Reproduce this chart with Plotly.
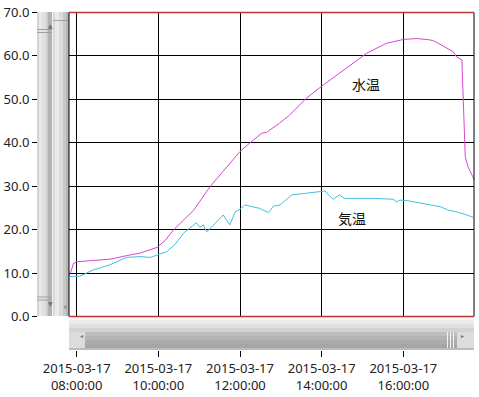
import plotly.graph_objects as go

W, H = 479, 397

# ---------------- data ----------------
water_time = ["07:49", "07:52", "07:55", "08:00", "08:24", "08:49", "09:13", "09:33", "09:58",
              "10:10", "10:22", "10:52", "11:16", "11:35", "11:50", "12:00", "12:17", "12:32",
              "12:39", "12:58", "13:13", "13:37", "13:59", "14:32", "15:06", "15:35", "16:00",
              "16:20", "16:39", "16:47", "17:01", "17:13", "17:18", "17:26", "17:31", "17:35",
              "17:42", "17:44"]
water_temp = [9.4, 10.5, 12.2, 12.6, 12.9, 13.2, 14.0, 14.6, 15.9,
              17.5, 19.9, 24.5, 29.9, 33.3, 36.2, 38.0, 40.3, 42.2,
              42.4, 44.5, 46.4, 50.2, 52.9, 56.8, 60.6, 62.9, 63.8,
              64.0, 63.7, 63.3, 62.1, 61.0, 59.8, 59.1, 36.8, 34.5,
              32.2, 31.4]

air_time = ["07:49", "08:05", "08:24", "08:49", "09:13", "09:33", "09:48", "09:58", "10:12",
            "10:24", "10:37", "10:56", "11:01", "11:06", "11:11", "11:18", "11:26", "11:35",
            "11:45", "11:53", "12:00", "12:07", "12:17", "12:29", "12:42", "12:49", "12:59",
            "13:04", "13:16", "13:38", "14:00", "14:05", "14:10", "14:17", "14:26", "14:34",
            "15:16", "15:45", "15:50", "15:55", "16:05", "16:24", "16:39", "16:54", "17:06",
            "17:18", "17:33", "17:43"]
air_temp = [9.2, 9.3, 10.7, 11.9, 13.6, 13.8, 13.6, 14.2, 14.9,
            16.5, 19.2, 21.6, 20.5, 21.1, 19.5, 20.5, 21.8, 23.4,
            21.1, 24.1, 24.7, 25.7, 25.3, 24.9, 23.9, 25.4, 25.7,
            26.4, 28.0, 28.4, 28.7, 28.9, 28.0, 27.0, 28.0, 27.2,
            27.2, 27.0, 26.4, 26.8, 26.7, 26.2, 25.7, 25.3, 24.5,
            24.1, 23.4, 22.8]

DATE = "2015-03-17"
x_start, x_end = "2015-03-17 07:48:41", "2015-03-17 17:43:51"
y_range = [0, 70]
series_labels = ["水温", "気温"]

# ---------------- layout helpers (pixel -> paper) ----------------
def px(x):
    return x / W

def py(y):
    return 1 - y / H

PL, PR, PT, PB = 69, 474, 12.5, 316.5

fig = go.Figure()
fig.add_trace(go.Scatter(x=[f"{DATE} {t}" for t in water_time], y=water_temp, mode="lines",
                         line=dict(color="#D646D4", width=1), name=series_labels[0],
                         hoverinfo="skip"))
fig.add_trace(go.Scatter(x=[f"{DATE} {t}" for t in air_time], y=air_temp, mode="lines",
                         line=dict(color="#3EC0DE", width=1), name=series_labels[1],
                         hoverinfo="skip"))

shapes = []

def rect(x0, y0, x1, y1, color, layer="above"):
    shapes.append(dict(type="rect", xref="paper", yref="paper", x0=px(x0), x1=px(x1),
                       y0=py(y1), y1=py(y0), fillcolor=color, line=dict(width=0), layer=layer))

def hline(x0, x1, y, color, w=1):
    shapes.append(dict(type="line", xref="paper", yref="paper", x0=px(x0), x1=px(x1),
                       y0=py(y), y1=py(y), line=dict(color=color, width=w)))

def vline(x, y0, y1, color, w=1):
    shapes.append(dict(type="line", xref="paper", yref="paper", x0=px(x), x1=px(x),
                       y0=py(y0), y1=py(y1), line=dict(color=color, width=w)))

# vertical scrollbar 1 (x 37-53)
for (a, b, c) in [(37, 39, "#d4d4d4"), (39, 42, "#e8e8e8"), (42, 46, "#e0e0e0"),
                  (46, 48, "#cccccc"), (48, 52, "#b2b2b2"), (52, 53, "#f2f2f2")]:
    rect(a, 12, b, 316, c)
hline(37, 52, 29.5, "#a0a0a0")
hline(37, 52, 32.5, "#a0a0a0")
hline(37, 52, 297, "#a0a0a0")
hline(37, 52, 300, "#a0a0a0")
# vertical scrollbar 2 (x 53-69)
for (a, b, c) in [(53, 55, "#d8d8d8"), (55, 59, "#eaeaea"), (59, 63, "#dcdcdc"),
                  (63, 66, "#c8c8c8"), (66, 69, "#b6b6b6")]:
    rect(a, 12, b, 316, c)
hline(53, 68, 20.5, "#a0a0a0")

# horizontal scrollbar (y 317-350)
for (a, b, c) in [(317, 320, "#f6f6f6"), (320, 324, "#ececec"), (324, 328, "#e0e0e0"),
                  (328, 332, "#d2d2d2"), (332, 336, "#bebebe"), (336, 340, "#b4b4b4"),
                  (340, 344, "#acacac"), (344, 348, "#a6a6a6"), (348, 350, "#bcbcbc")]:
    rect(PL, a, PR, b, c)
rect(PL, 332, 85, 348, "#dcdcdc")
rect(457, 332, PR, 348, "#dcdcdc")
for gx in (447.5, 450.5, 453.5):
    vline(gx, 332, 348, "#f4f4f4")

# plot frame
vline(PL, PT, PB, "#000000")
vline(PR, PT, PB, "#000000")
hline(PL, PR, PT, "#C0343A", 1.3)
hline(PL, PR, PB, "#C0343A", 1.3)

annotations = [
    dict(x=f"{DATE} 15:05", y=53.5, xref="x", yref="y", text=series_labels[0], showarrow=False,
         font=dict(family="Noto Sans CJK JP", size=14, color="#111111")),
    dict(x=f"{DATE} 14:44", y=22.7, xref="x", yref="y", text=series_labels[1], showarrow=False,
         font=dict(family="Noto Sans CJK JP", size=14, color="#111111")),
]
for (tx, ty, t) in [(45.5, 20.5, "▲"), (45.5, 309, "▼"), (61, 312, "∧"), (77.5, 340.5, "◂"), (466, 340.5, "▸")]:
    annotations.append(dict(x=px(tx), y=py(ty), xref="paper", yref="paper", text=t, showarrow=False,
                            font=dict(family="DejaVu Sans", size=6, color="#707070")))

tickfont = dict(family="Noto Sans", size=13, color="#222222")

fig.update_layout(
    width=W, height=H,
    margin=dict(l=0, r=0, t=0, b=0, pad=0, autoexpand=False),
    paper_bgcolor="white", plot_bgcolor="white",
    showlegend=False,
    shapes=shapes,
    annotations=annotations,
    xaxis=dict(
        domain=[px(PL), px(PR)], range=[x_start, x_end], type="date",
        anchor="free", position=py(350), automargin=False,
        tick0=f"{DATE} 08:00", dtick=2 * 3600 * 1000,
        tickformat="%Y-%m-%d<br>%H:%M:%S",
        ticks="outside", ticklen=6, tickcolor="#000000",
        showgrid=True, gridcolor="#000000", gridwidth=1,
        showline=False, zeroline=False, tickfont=tickfont,
    ),
    yaxis=dict(
        domain=[py(PB), py(PT)], range=y_range,
        anchor="free", position=px(37), automargin=False,
        dtick=10, tickformat=".1f",
        ticks="outside", ticklen=5, tickcolor="#000000",
        showgrid=True, gridcolor="#000000", gridwidth=1,
        showline=False, zeroline=False, tickfont=tickfont,
    ),
)

fig.write_html("out.html")
